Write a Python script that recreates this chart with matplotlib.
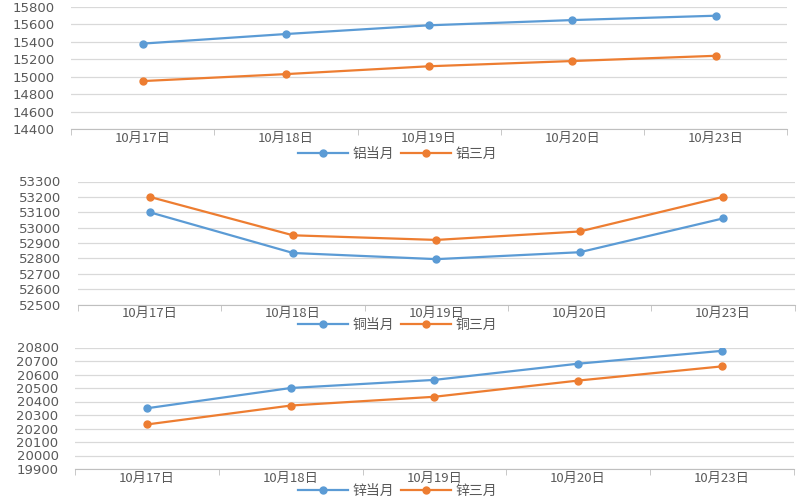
import matplotlib
matplotlib.use("Agg")
import matplotlib.pyplot as plt
from matplotlib.ticker import FixedLocator, MultipleLocator

plt.rcParams['font.family'] = ['Noto Sans CJK SC', 'DejaVu Sans']

# 数据
dates = ["10月17日", "10月18日", "10月19日", "10月20日", "10月23日"]

lv_dangyue = [15380, 15490, 15590, 15650, 15700]
lv_sanyue = [14950, 15030, 15120, 15180, 15240]

tong_dangyue = [53100, 52835, 52795, 52840, 53060]
tong_sanyue = [53200, 52950, 52920, 52975, 53200]

xin_dangyue = [20350, 20500, 20560, 20680, 20775]
xin_sanyue = [20230, 20370, 20435, 20555, 20660]

panels = [
    # (当月, 三月, 名称, ylim, 步长, 坐标轴位置, 图例y)
    (lv_dangyue, lv_sanyue, "铝", (14400, 15800), 200, [0.089, 0.742, 0.895, 0.244], 0.692),
    (tong_dangyue, tong_sanyue, "铜", (52500, 53300), 100, [0.0975, 0.391, 0.896, 0.246], 0.350),
    (xin_dangyue, xin_sanyue, "锌", (19900, 20800), 100, [0.094, 0.062, 0.898, 0.243], 0.018),
]

blue = "#5B9BD5"
orange = "#ED7D31"
grey_text = "#595959"

fig = plt.figure(figsize=(8, 5), dpi=100)

for cur, three, name, ylim, step, pos, leg_y in panels:
    ax = fig.add_axes(pos)
    x = list(range(len(dates)))
    l1, = ax.plot(x, cur, color=blue, marker='o', markersize=5, linewidth=1.6,
                  label=name + "当月")
    l2, = ax.plot(x, three, color=orange, marker='o', markersize=5, linewidth=1.6,
                  label=name + "三月")
    ax.set_xlim(-0.5, len(dates) - 0.5)
    ax.set_ylim(*ylim)
    ax.yaxis.set_major_locator(MultipleLocator(step))
    ax.grid(axis='y', color="#D9D9D9", linewidth=0.9)
    ax.set_axisbelow(True)
    for s in ['top', 'right', 'left']:
        ax.spines[s].set_visible(False)
    ax.spines['bottom'].set_color("#BFBFBF")
    ax.set_xticks(x)
    ax.set_xticklabels(dates, fontsize=9.5, color=grey_text)
    ax.tick_params(axis='x', which='major', length=0, pad=2)
    ax.xaxis.set_minor_locator(FixedLocator([i - 0.5 for i in range(len(dates) + 1)]))
    ax.tick_params(axis='x', which='minor', length=4, color="#BFBFBF")
    ax.tick_params(axis='y', length=0, labelsize=9.5, labelcolor=grey_text, pad=12)
    for lab in ax.get_yticklabels():
        lab.set_family('DejaVu Sans')
    fig.legend(handles=[l1, l2], loc='center', bbox_to_anchor=(0.497, leg_y),
               ncol=2, frameon=False, fontsize=10, labelcolor=grey_text,
               handlelength=3.6, columnspacing=0.5, handletextpad=0.3,
               borderpad=0.1)

fig.savefig("out.png", dpi=100)
